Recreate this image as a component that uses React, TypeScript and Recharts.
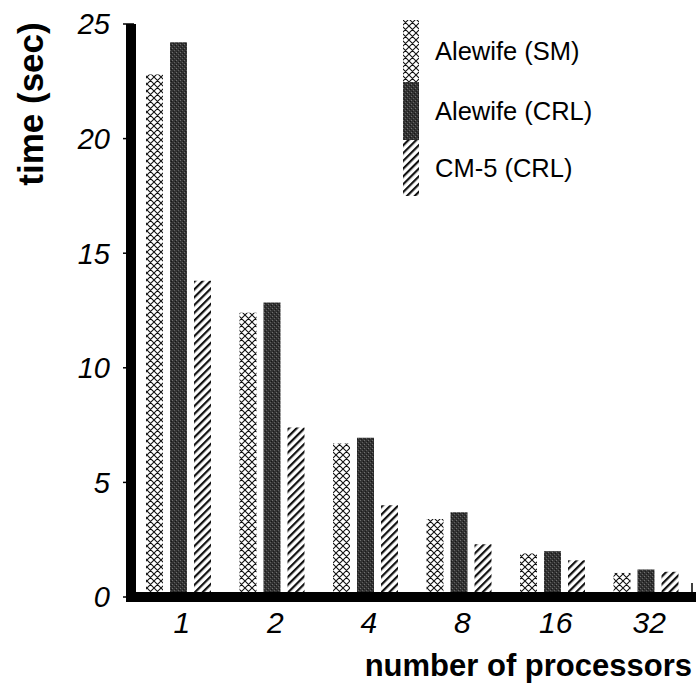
import { BarChart, Bar, XAxis, YAxis, Legend } from "recharts";

const processors = ["1", "2", "4", "8", "16", "32"];
const alewifeSM = [22.8, 12.4, 6.7, 3.4, 1.9, 1.05];
const alewifeCRL = [24.2, 12.85, 6.95, 3.7, 2.0, 1.2];
const cm5CRL = [13.8, 7.4, 4.0, 2.3, 1.6, 1.1];
const yTicks = [0, 5, 10, 15, 20, 25];

const seriesNames = ["Alewife (SM)", "Alewife (CRL)", "CM-5 (CRL)"];

const data = processors.map((p, i) => ({
  procs: p,
  sm: alewifeSM[i],
  crl: alewifeCRL[i],
  cm5: cm5CRL[i],
}));

const FONT = '"Liberation Sans", Arial, Helvetica, sans-serif';
const W = 696;
const H = 683;
const PLOT_LEFT = 131;
const PLOT_TOP = 24;
const PLOT_BOTTOM = 597;

// fill patterns shared by bars and legend swatches
function Patterns() {
  return (
    <svg width={0} height={0} style={{ position: "absolute" }}>
      <defs>
        <pattern id="pat-sm" patternUnits="userSpaceOnUse" width={7} height={7}>
          <rect width={7} height={7} fill="#fff" />
          <path d="M0,0 L7,7 M7,0 L0,7 M-1,6 L1,8 M6,-1 L8,1" stroke="#111" strokeWidth={1.1} />
        </pattern>
        <pattern id="pat-crl" patternUnits="userSpaceOnUse" width={4} height={4}>
          <rect width={4} height={4} fill="#333" />
          <rect x={0} y={0} width={1} height={1} fill="#707070" />
          <rect x={2} y={2} width={1} height={1} fill="#606060" />
          <rect x={3} y={1} width={1} height={1} fill="#151515" />
          <rect x={1} y={3} width={1} height={1} fill="#1c1c1c" />
        </pattern>
        <pattern
          id="pat-cm5"
          patternUnits="userSpaceOnUse"
          width={5.5}
          height={5.5}
          patternTransform="rotate(45)"
        >
          <rect width={5.5} height={5.5} fill="#fff" />
          <rect x={0} y={0} width={2.2} height={5.5} fill="#111" />
        </pattern>
      </defs>
    </svg>
  );
}

function YTick(props: any) {
  const { x, y, payload } = props;
  return (
    <g>
      <line x1={x} y1={y} x2={x + 11} y2={y} stroke="#000" strokeWidth={1.5} />
      <text
        x={x - 13}
        y={y}
        dy="0.36em"
        textAnchor="end"
        fontFamily={FONT}
        fontStyle="italic"
        fontSize={29}
        fill="#000"
      >
        {payload.value}
      </text>
    </g>
  );
}

function XTick(props: any) {
  const { x, y, payload } = props;
  return (
    <text
      x={x + 4}
      y={y + 6}
      dy="0.72em"
      textAnchor="middle"
      fontFamily={FONT}
      fontStyle="italic"
      fontSize={30}
      fill="#000"
    >
      {payload.value}
    </text>
  );
}

function LegendBox() {
  const fills = ["url(#pat-sm)", "url(#pat-crl)", "url(#pat-cm5)"];
  const blocks = [
    { y: 8, h: 62 },
    { y: 70, h: 58 },
    { y: 128, h: 56 },
  ];
  return (
    <svg width={240} height={190}>
      {blocks.map((b, i) => (
        <g key={seriesNames[i]}>
          <rect x={8} y={b.y} width={16} height={b.h} fill={fills[i]} />
          <text
            x={40}
            y={b.y + b.h / 2}
            dy="0.36em"
            fontFamily={FONT}
            fontSize={25.5}
            fill="#000"
          >
            {seriesNames[i]}
          </text>
        </g>
      ))}
    </svg>
  );
}

export default function App() {
  return (
    <div style={{ position: "absolute", left: 0, top: 0, width: W, height: H, background: "#fff" }}>
      <Patterns />
      <BarChart
        width={W}
        height={H}
        data={data}
        margin={{ top: PLOT_TOP, right: 4, left: 0, bottom: 0 }}
        barCategoryGap={15}
        barGap={7}
      >
        <XAxis
          dataKey="procs"
          height={H - PLOT_BOTTOM}
          axisLine={{ stroke: "#000", strokeWidth: 10, strokeLinecap: "square" }}
          tickLine={false}
          tick={<XTick />}
          interval={0}
        />
        <YAxis
          width={PLOT_LEFT}
          domain={[0, 25]}
          ticks={yTicks}
          interval={0}
          axisLine={{ stroke: "#000", strokeWidth: 10 }}
          tickLine={false}
          tick={<YTick />}
        />
        <Legend
          layout="horizontal"
          verticalAlign="middle"
          align="center"
          wrapperStyle={{ left: 395, top: 12, width: 240 }}
          content={() => <LegendBox />}
        />
        <Bar dataKey="sm" name={seriesNames[0]} fill="url(#pat-sm)" isAnimationActive={false} />
        <Bar dataKey="crl" name={seriesNames[1]} fill="url(#pat-crl)" isAnimationActive={false} />
        <Bar dataKey="cm5" name={seriesNames[2]} fill="url(#pat-cm5)" isAnimationActive={false} />
      </BarChart>
      <svg
        width={W}
        height={H}
        style={{ position: "absolute", left: 0, top: 0, pointerEvents: "none" }}
      >
        {/* right end tick of the category axis */}
        <line x1={692} y1={583} x2={692} y2={592} stroke="#000" strokeWidth={1.5} />
        <text
          x={30}
          y={104}
          transform="rotate(-90 30 104)"
          textAnchor="middle"
          dy="0.36em"
          fontFamily={FONT}
          fontWeight="bold"
          fontSize={35}
          fill="#000"
        >
          time (sec)
        </text>
        <text
          x={692}
          y={665}
          dy="0.36em"
          textAnchor="end"
          fontFamily={FONT}
          fontWeight="bold"
          fontSize={31}
          fill="#000"
        >
          number of processors
        </text>
      </svg>
    </div>
  );
}
